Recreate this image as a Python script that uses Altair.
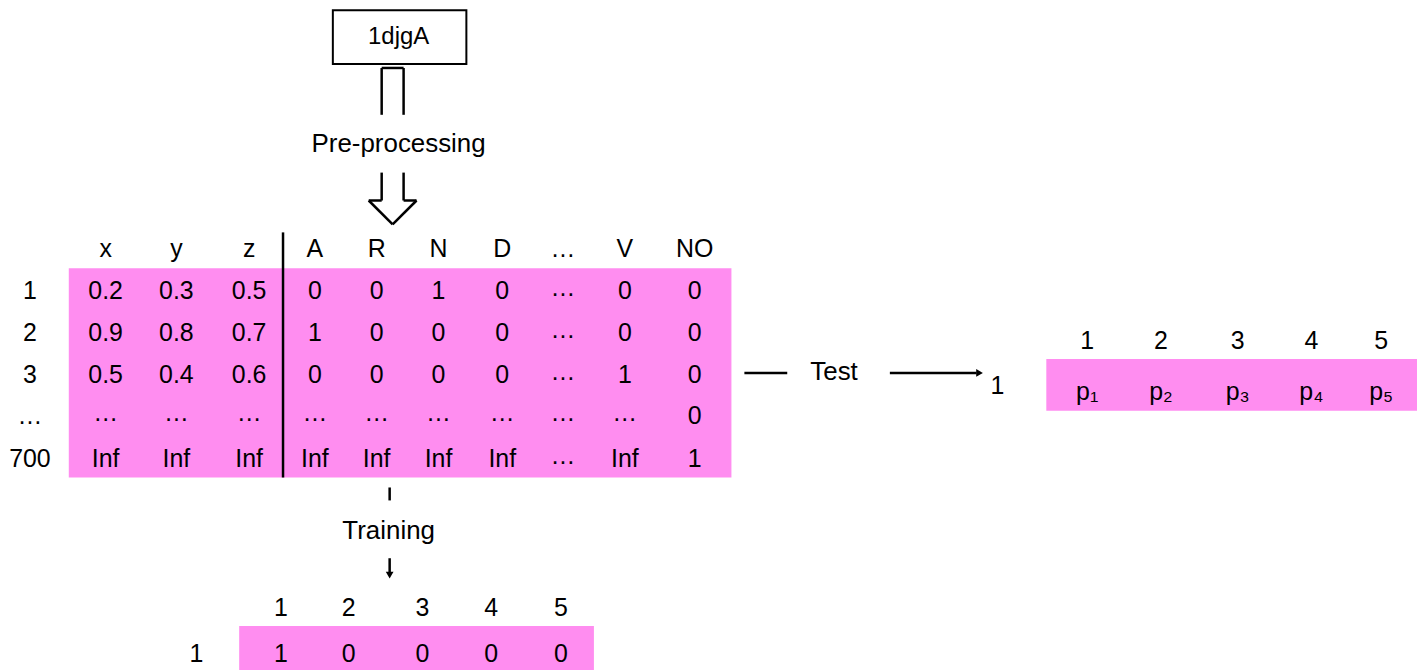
import altair as alt
import pandas as pd

# ---- data ----
source_id = "1djgA"
step_pre = "Pre-processing"
step_train = "Training"
step_test = "Test"
col_headers = ["x", "y", "z", "A", "R", "N", "D", "…", "V", "NO"]
row_labels = ["1", "2", "3", "…", "700"]
row_1 = ["0.2", "0.3", "0.5", "0", "0", "1", "0", "…", "0", "0"]
row_2 = ["0.9", "0.8", "0.7", "1", "0", "0", "0", "…", "0", "0"]
row_3 = ["0.5", "0.4", "0.6", "0", "0", "0", "0", "…", "1", "0"]
row_4 = ["…", "…", "…", "…", "…", "…", "…", "…", "…", "0"]
row_5 = ["Inf", "Inf", "Inf", "Inf", "Inf", "Inf", "Inf", "…", "Inf", "1"]
class_headers = ["1", "2", "3", "4", "5"]
train_values = ["1", "0", "0", "0", "0"]
test_values = ["p₁", "p₂", "p₃", "p₄", "p₅"]

# ---- layout (pixel coordinates of the page) ----
col_x = [106, 177, 250, 316, 378, 440, 504, 565, 627, 697]
row_y = [287, 329, 371, 412, 455]
bot_x = [282, 350, 424, 493, 563]
right_x = [1091, 1165, 1242, 1316, 1386]
PINK = "#FF8DF0"

texts = []
def T(x, y, s, size=25):
    texts.append(dict(x=x, y=y, t=s, size=size))

T(400, 32, source_id, 24)
T(400, 139, step_pre, 26)
for cx, h in zip(col_x, col_headers):
    T(cx, 245, h)
rows = [row_1, row_2, row_3, row_4, row_5]
for ry, lab, vals in zip(row_y, row_labels, rows):
    T(30, ry, lab)
    for cx, v in zip(col_x, vals):
        T(cx, ry if v != "…" else ry - 3, v)
T(390, 528, step_train, 26)
for bx, h, v in zip(bot_x, class_headers, train_values):
    T(bx, 605, h)
    T(bx, 651, v)
T(197, 651, "1")
T(837, 368, step_test, 26)
T(1001, 382, "1")
for rx, h, v in zip(right_x, class_headers, test_values):
    T(rx, 337, h)
    T(rx, 388, v)
tdf = pd.DataFrame(texts)

rects = pd.DataFrame([
    dict(x=69, x2=734, y=264, y2=474, fill=PINK, stroke="none", sw=0),
    dict(x=240, x2=596, y=623, y2=670, fill=PINK, stroke="none", sw=0),
    dict(x=1050, x2=1422, y=355, y2=407, fill=PINK, stroke="none", sw=0),
    dict(x=334, x2=468, y=5, y2=59, fill="white", stroke="black", sw=2),
])

segs = pd.DataFrame([
    # open double arrow from box
    dict(x=383, y=63, x2=405, y2=63), dict(x=383, y=63, x2=383, y2=110),
    dict(x=405, y=63, x2=405, y2=110),
    # hollow arrow
    dict(x=383, y=168, x2=383, y2=196), dict(x=405, y=168, x2=405, y2=196),
    dict(x=370, y=196, x2=383, y2=196), dict(x=405, y=196, x2=418, y2=196),
    dict(x=370, y=196, x2=394, y2=220), dict(x=418, y=196, x2=394, y2=220),
    # separator
    dict(x=284, y=228, x2=284, y2=474),
    # training tick and arrow
    dict(x=391, y=484, x2=391, y2=497),
    dict(x=391, y=555, x2=391, y2=570),
    # test lines
    dict(x=747, y=369, x2=790, y2=369),
    dict(x=893, y=369, x2=980, y2=369),
])
heads = pd.DataFrame([
    dict(x=391, y=572, shape="triangle-down"),
    dict(x=983, y=369, shape="triangle-right"),
])

X = alt.Scale(domain=[8, 1417])
Y = alt.Scale(domain=[8, 662], reverse=True)
nx = alt.X("x:Q", scale=X, axis=None)
ny = alt.Y("y:Q", scale=Y, axis=None)

rect_layer = alt.Chart(rects).mark_rect().encode(
    x=nx, x2="x2:Q", y=ny, y2="y2:Q",
    fill=alt.Fill("fill:N", scale=None),
    stroke=alt.Stroke("stroke:N", scale=None),
    strokeWidth=alt.StrokeWidth("sw:Q", scale=None),
)
seg_layer = alt.Chart(segs).mark_rule(color="black", strokeWidth=2.5).encode(
    x=nx, x2="x2:Q", y=ny, y2="y2:Q")
head_layer = alt.Chart(heads).mark_point(filled=True, color="black", size=60, opacity=1).encode(
    x=nx, y=ny, shape=alt.Shape("shape:N", scale=None))
text_layer = alt.Chart(tdf).mark_text(font="Liberation Sans", color="black", baseline="middle").encode(
    x=nx, y=ny, text="t:N", size=alt.Size("size:Q", scale=None))

chart = alt.layer(rect_layer, seg_layer, head_layer, text_layer).properties(
    width=1409, height=654, padding=0
).configure_view(stroke=None)

chart.save("out.html", embed_options={"renderer": "svg", "actions": False})
